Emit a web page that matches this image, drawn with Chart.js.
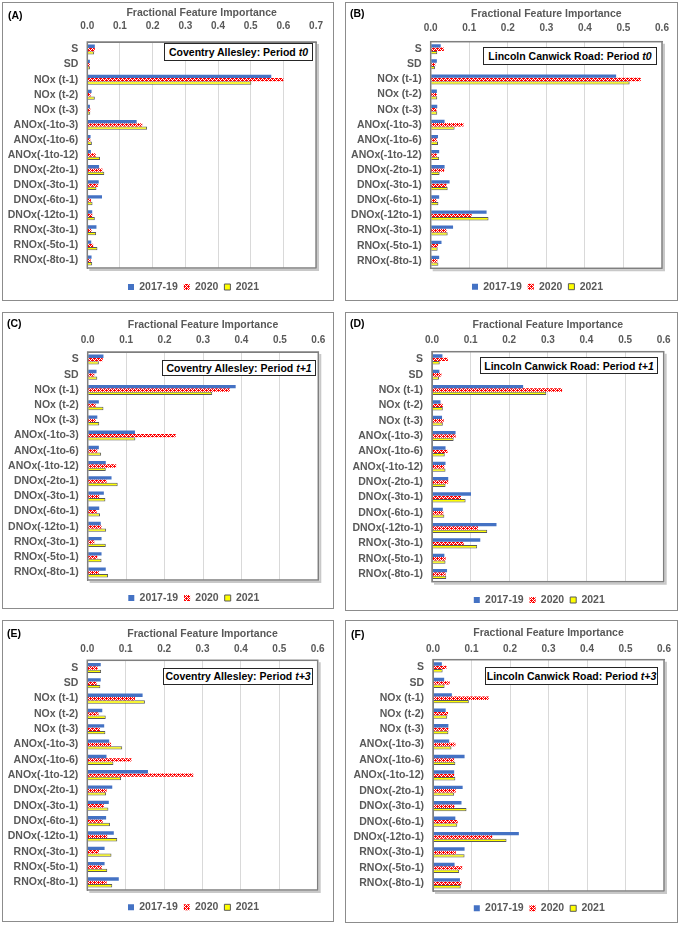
<!DOCTYPE html>
<html>
<head>
<meta charset="utf-8">
<script src="https://cdn.jsdelivr.net/npm/chart.js@4.4.1/dist/chart.umd.min.js"></script>
<style>
  body { margin: 0; background: #fff; width: 683px; height: 925px; position: relative; overflow: hidden;
         font-family: "Liberation Sans", Arial, sans-serif; }
  .panel { position: absolute; border: 1px solid #8c8c8c; box-sizing: border-box; }
  .panel canvas { position: absolute; left: 0; top: 0; }
  .tag { position: absolute; font-weight: bold; font-size: 10.5px; line-height: 12px; color: #000; }
  .note { position: absolute; box-sizing: border-box; border: 1.5px solid #262626; background: #fff;
          font-weight: bold; font-size: 10.5px; color: #000; white-space: nowrap;
          display: flex; align-items: center; justify-content: center; }
</style>
</head>
<body>
<script>
const features = ['S', 'SD', 'NOx (t-1)', 'NOx (t-2)', 'NOx (t-3)',
  'ANOx(-1to-3)', 'ANOx(-1to-6)', 'ANOx(-1to-12)',
  'DNOx(-2to-1)', 'DNOx(-3to-1)', 'DNOx(-6to-1)', 'DNOx(-12to-1)',
  'RNOx(-3to-1)', 'RNOx(-5to-1)', 'RNOx(-8to-1)'];
const seriesNames = ['2017-19', '2020', '2021'];
const axisMax = [0.7, 0.6, 0.6, 0.6, 0.6, 0.6];
const axisTitle = 'Fractional Feature Importance';

// (A) Coventry Allesley, t0
const covT0_1719 = [0.023, 0.008, 0.563, 0.013, 0.008, 0.151, 0.010, 0.011, 0.036, 0.035, 0.045, 0.015, 0.028, 0.012, 0.013];
const covT0_2020 = [0.023, 0.008, 0.600, 0.010, 0.009, 0.168, 0.009, 0.026, 0.046, 0.033, 0.011, 0.015, 0.013, 0.018, 0.010];
const covT0_2021 = [0.021, 0.008, 0.502, 0.023, 0.009, 0.183, 0.014, 0.039, 0.052, 0.028, 0.016, 0.023, 0.027, 0.031, 0.015];
// (B) Lincoln Canwick Road, t0
const linT0_1719 = [0.026, 0.016, 0.481, 0.016, 0.017, 0.036, 0.019, 0.022, 0.036, 0.049, 0.022, 0.145, 0.058, 0.028, 0.022];
const linT0_2020 = [0.034, 0.012, 0.545, 0.016, 0.015, 0.085, 0.016, 0.016, 0.035, 0.041, 0.015, 0.106, 0.041, 0.019, 0.017];
const linT0_2021 = [0.017, 0.011, 0.516, 0.017, 0.017, 0.062, 0.019, 0.022, 0.023, 0.044, 0.020, 0.150, 0.044, 0.018, 0.020];
// (C) Coventry Allesley, t+1
const covT1_1719 = [0.041, 0.023, 0.385, 0.029, 0.025, 0.123, 0.029, 0.047, 0.062, 0.042, 0.030, 0.034, 0.036, 0.036, 0.047];
const covT1_2020 = [0.039, 0.017, 0.370, 0.021, 0.021, 0.229, 0.025, 0.074, 0.049, 0.030, 0.023, 0.036, 0.017, 0.025, 0.029];
const covT1_2021 = [0.029, 0.025, 0.324, 0.041, 0.030, 0.124, 0.035, 0.047, 0.078, 0.046, 0.032, 0.048, 0.047, 0.036, 0.053];
// (D) Lincoln Canwick Road, t+1
const linT1_1719 = [0.027, 0.019, 0.236, 0.022, 0.026, 0.061, 0.035, 0.035, 0.042, 0.101, 0.028, 0.167, 0.125, 0.032, 0.039];
const linT1_2020 = [0.041, 0.024, 0.337, 0.028, 0.030, 0.061, 0.040, 0.032, 0.042, 0.075, 0.029, 0.119, 0.082, 0.035, 0.035];
const linT1_2021 = [0.020, 0.018, 0.296, 0.028, 0.028, 0.056, 0.033, 0.035, 0.035, 0.087, 0.032, 0.143, 0.117, 0.035, 0.037];
// (E) Coventry Allesley, t+3
const covT3_1719 = [0.035, 0.035, 0.144, 0.039, 0.044, 0.057, 0.050, 0.158, 0.065, 0.056, 0.049, 0.069, 0.045, 0.045, 0.082];
const covT3_2020 = [0.027, 0.024, 0.124, 0.029, 0.033, 0.062, 0.115, 0.276, 0.050, 0.043, 0.040, 0.052, 0.030, 0.038, 0.050];
const covT3_2021 = [0.036, 0.034, 0.150, 0.048, 0.047, 0.091, 0.068, 0.088, 0.049, 0.055, 0.059, 0.078, 0.063, 0.052, 0.065];
// (F) Lincoln Canwick Road, t+3
const linT3_1719 = [0.023, 0.029, 0.049, 0.033, 0.040, 0.042, 0.082, 0.055, 0.077, 0.074, 0.058, 0.223, 0.082, 0.056, 0.070];
const linT3_2020 = [0.035, 0.043, 0.145, 0.039, 0.040, 0.058, 0.055, 0.055, 0.059, 0.056, 0.064, 0.154, 0.059, 0.076, 0.074];
const linT3_2021 = [0.025, 0.030, 0.093, 0.037, 0.040, 0.048, 0.058, 0.058, 0.055, 0.087, 0.063, 0.191, 0.082, 0.068, 0.072];

// page geometry of each panel (box, plot area, text rows, note box)
const panels = [
  { tag: '(A)', site: 'Coventry Allesley', period: 't0', data: [covT0_1719, covT0_2020, covT0_2021],
    box: [2, 2, 332, 299], plot: [87.3, 42, 316.7, 268], titleY: 12.7, tickY: 26, legend: [193.5, 287],
    note: [164, 42.5, 149, 18.5], tagAt: [8, 15.4] },
  { tag: '(B)', site: 'Lincoln Canwick Road', period: 't0', data: [linT0_1719, linT0_2020, linT0_2021],
    box: [345, 2, 333, 299], plot: [430.7, 41.7, 662, 268.3], titleY: 14.3, tickY: 28, legend: [537.5, 286.7],
    note: [483, 47, 174, 18.3], tagAt: [350, 13.3] },
  { tag: '(C)', site: 'Coventry Allesley', period: 't+1', data: [covT1_1719, covT1_2020, covT1_2021],
    box: [2, 312, 332, 297], plot: [87.7, 352, 318.3, 580], titleY: 325, tickY: 340.5, legend: [193.8, 598],
    note: [162, 359.5, 154, 16], tagAt: [7, 323] },
  { tag: '(D)', site: 'Lincoln Canwick Road', period: 't+1', data: [linT1_1719, linT1_2020, linT1_2021],
    box: [345, 312, 333, 299], plot: [432, 351.7, 663.7, 581.7], titleY: 325, tickY: 340.5, legend: [539.3, 600],
    note: [480, 357, 178, 17.3], tagAt: [350, 323] },
  { tag: '(E)', site: 'Coventry Allesley', period: 't+3', data: [covT3_1719, covT3_2020, covT3_2021],
    box: [2, 620, 332, 302], plot: [87.3, 660.3, 317.7, 890], titleY: 633.7, tickY: 649.5, legend: [193.5, 907.3],
    note: [163, 668, 150, 16.5], tagAt: [7, 632.5] },
  { tag: '(F)', site: 'Lincoln Canwick Road', period: 't+3', data: [linT3_1719, linT3_2020, linT3_2021],
    box: [345, 620, 333, 303], plot: [433, 659.7, 664, 891], titleY: 633.3, tickY: 649.5, legend: [539.3, 908.3],
    note: [485, 667, 173, 18], tagAt: [351, 633.5] },
];

Chart.defaults.font.family = '"Liberation Sans", Arial, sans-serif';
Chart.defaults.font.weight = 'bold';
Chart.defaults.color = '#595959';

function redHatch() {
  const c = document.createElement('canvas');
  c.width = 4; c.height = 4;
  const g = c.getContext('2d');
  g.fillStyle = '#ff0000';
  g.fillRect(0, 0, 4, 4);
  g.fillStyle = '#ffffff';
  [[0, 0], [1, 1], [2, 2], [3, 3], [2, 0], [0, 2]].forEach(([x, y]) => g.fillRect(x, y, 1, 1));
  return g.createPattern(c, 'repeat');
}
const hatch = redHatch();

// frame round the plot area with a soft shadow on right and bottom
const plotFrame = {
  id: 'plotFrame',
  afterDatasetsDraw(chart) {
    const { ctx, chartArea: a } = chart;
    ctx.save();
    ctx.strokeStyle = '#c8c8c8';
    ctx.lineWidth = 2;
    ctx.beginPath();
    ctx.moveTo(a.right + 2, a.top + 2);
    ctx.lineTo(a.right + 2, a.bottom + 2);
    ctx.lineTo(a.left + 2, a.bottom + 2);
    ctx.stroke();
    ctx.strokeStyle = '#7f7f7f';
    ctx.lineWidth = 1.5;
    ctx.strokeRect(a.left, a.top, a.right - a.left, a.bottom - a.top);
    ctx.restore();
  }
};

// move the legend row so that it is centred on a given x
const legendShift = {
  id: 'legendShift',
  afterLayout(chart, args, opts) {
    const lg = chart.legend;
    if (!lg || opts.cx == null) return;
    const dx = opts.cx - (lg.left + lg.right) / 2;
    lg.left += dx;
    lg.right += dx;
  }
};

panels.forEach((p, i) => {
  const [bx, by, bw, bh] = p.box;
  const ox = bx + 1, oy = by + 1;
  const div = document.createElement('div');
  div.className = 'panel';
  Object.assign(div.style, { left: bx + 'px', top: by + 'px', width: bw + 'px', height: bh + 'px' });
  document.body.appendChild(div);

  const pl = p.plot[0] - ox, pt = p.plot[1] - oy, pr = p.plot[2] - ox, pb = p.plot[3] - oy;
  const fs = 10.5, ph = 6;
  const W = bw - 2;
  const padR = W - pr;
  const legY = p.legend[1] - oy;
  const titleH = legY - pb - ph - fs / 2;
  const exactH = legY + fs / 2 + 10;
  const H = Math.ceil(exactH);

  const canvas = document.createElement('canvas');
  canvas.width = W; canvas.height = H;
  canvas.style.width = W + 'px'; canvas.style.height = H + 'px';
  div.appendChild(canvas);

  new Chart(canvas.getContext('2d'), {
    type: 'bar',
    data: {
      labels: features,
      datasets: [
        { label: seriesNames[0], data: p.data[0], backgroundColor: '#4472c4', borderWidth: 0 },
        { label: seriesNames[1], data: p.data[1], backgroundColor: hatch, borderWidth: 0 },
        { label: seriesNames[2], data: p.data[2], backgroundColor: '#ffff00', borderColor: '#595959', borderWidth: 1 },
      ],
    },
    options: {
      indexAxis: 'y',
      responsive: false,
      animation: false,
      layout: { padding: { left: 0, right: padR, top: 0, bottom: H - exactH } },
      datasets: { bar: { categoryPercentage: 0.66, barPercentage: 1 } },
      scales: {
        x: {
          position: 'top', min: 0, max: axisMax[i],
          afterFit: s => { s.height = pt; },
          ticks: { stepSize: 0.1, padding: pt - (p.tickY - oy) - 6, font: { size: 10 },
                   maxRotation: 0, autoSkip: false, callback: v => v.toFixed(1) },
          grid: { color: '#d9d9d9', drawTicks: false },
          border: { color: '#7f7f7f' },
          title: { display: true, text: axisTitle, font: { size: fs },
                   padding: { top: (p.titleY - oy) - fs * 0.6, bottom: 0 } },
        },
        y: {
          afterFit: s => { s.width = pl; },
          grid: { display: false, drawTicks: false },
          border: { color: '#7f7f7f' },
          ticks: { padding: 9, autoSkip: false, font: { size: fs } },
        },
      },
      plugins: {
        legend: {
          position: 'bottom',
          title: { display: true, text: '', font: { size: 1 }, padding: { top: titleH - 1.2, bottom: 0 } },
          labels: { boxWidth: 6, boxHeight: 6, padding: ph, font: { size: fs }, color: '#595959' },
        },
        legendShift: { cx: p.legend[0] - ox },
        tooltip: { enabled: false },
      },
    },
    plugins: [plotFrame, legendShift],
  });

  const tag = document.createElement('div');
  tag.className = 'tag';
  tag.textContent = p.tag;
  Object.assign(tag.style, { left: p.tagAt[0] + 'px', top: (p.tagAt[1] - 6) + 'px' });
  document.body.appendChild(tag);

  const note = document.createElement('div');
  note.className = 'note';
  note.innerHTML = `${p.site}: Period&nbsp;<i>${p.period}</i>`;
  const [nx, ny, nw, nh] = p.note;
  Object.assign(note.style, { left: nx + 'px', top: ny + 'px', width: nw + 'px', height: nh + 'px' });
  document.body.appendChild(note);
});
</script>
</body>
</html>
